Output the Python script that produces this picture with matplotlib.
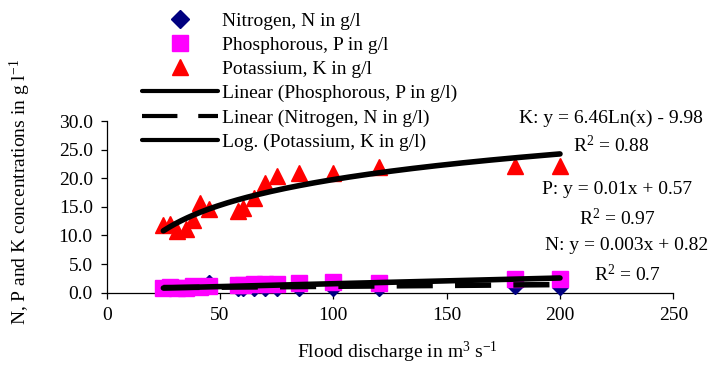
import numpy as np
import matplotlib
matplotlib.use("Agg")
import matplotlib.pyplot as plt
from matplotlib.lines import Line2D

plt.rcParams['font.family'] = ['Liberation Serif', 'DejaVu Serif']
plt.rcParams['mathtext.fontset'] = 'custom'
plt.rcParams['mathtext.rm'] = 'Liberation Serif'
plt.rcParams['mathtext.it'] = 'Liberation Serif:italic'
plt.rcParams['mathtext.bf'] = 'Liberation Serif:bold'

# ---- data ----
discharge = [25, 28, 31, 35, 38, 41, 45, 58, 60, 65, 70, 75, 85, 100, 120, 180, 200]
nitrogen = [0.9, 0.9, 0.8, 0.9, 1.0, 1.0, 1.65, 0.8, 0.9, 0.8, 0.8, 0.8, 0.9, 0.9, 0.9, 1.1, 1.0]
phosphorous = [0.9, 1.0, 0.8, 0.9, 1.1, 1.0, 1.1, 1.3, 1.4, 1.5, 1.5, 1.6, 1.75, 1.8, 1.65, 2.4, 2.4]
potassium = [11.8, 12.0, 10.7, 11.1, 12.7, 15.7, 14.6, 14.3, 14.8, 16.5, 19.1, 20.4, 21.0, 21.0, 22.0, 22.1, 22.1]

# trend-line coefficients as printed on the chart
k_log = (6.46, -9.98)     # y = a*ln(x) + b
p_lin = (0.01, 0.57)      # y = a*x + b
n_lin = (0.003, 0.82)

x_ticks = [0, 50, 100, 150, 200, 250]
y_ticks = [0, 5, 10, 15, 20, 25, 30]

legend_labels = ["Nitrogen, N in g/l", "Phosphorous, P in g/l", "Potassium, K in g/l",
                 "Linear (Phosphorous, P in g/l)", "Linear (Nitrogen, N in g/l)",
                 "Log. (Potassium, K in g/l)"]
eq_texts = ["K: y = 6.46Ln(x) - 9.98", "R$^{2}$ = 0.88",
            "P: y = 0.01x + 0.57", "R$^{2}$ = 0.97",
            "N: y = 0.003x + 0.82", "R$^{2}$ = 0.7"]

W, H = 710, 369
fig = plt.figure(figsize=(W / 100, H / 100), dpi=100)
x0, x1 = 106.7, 673.3
y_top, y_bot = 121.0, 292.7
ax = fig.add_axes([x0 / W, 1 - y_bot / H, (x1 - x0) / W, (y_bot - y_top) / H])

FS = 14
navy = '#000080'
mag = '#FF00FF'
red = '#FF0000'

ax.plot(discharge, nitrogen, linestyle='none', marker='D', ms=8, color=navy, zorder=3, clip_on=False)
ax.plot(discharge, phosphorous, linestyle='none', marker='s', ms=11, color=mag, zorder=4, clip_on=False)
ax.plot(discharge, potassium, linestyle='none', marker='^', ms=11.5, color=red, zorder=5, clip_on=False)

xs = np.linspace(min(discharge), max(discharge), 200)
lw = 4
ax.plot(xs, p_lin[0] * xs + p_lin[1], color='black', lw=lw, solid_capstyle='round', zorder=6)
ax.plot(xs, n_lin[0] * xs + n_lin[1], color='black', lw=lw, dashes=(6.5, 4.0), zorder=6)
ax.plot(xs, k_log[0] * np.log(xs) + k_log[1], color='black', lw=lw, solid_capstyle='round', zorder=6)

ax.set_xlim(0, 250)
ax.set_ylim(0, 30)
ax.set_xticks(x_ticks)
ax.set_yticks(y_ticks)
ax.set_yticklabels([f"{v:.1f}" for v in y_ticks])
ax.set_xticklabels([str(v) for v in x_ticks])
for s in ['top', 'right']:
    ax.spines[s].set_visible(False)
for s in ['left', 'bottom']:
    ax.spines[s].set_linewidth(0.9)
ax.tick_params(axis='both', direction='out', length=4, width=0.9, labelsize=FS, colors='black')
ax.tick_params(axis='y', pad=6)
ax.tick_params(axis='x', pad=6)
ax.set_facecolor('none')

# axis titles
fig.text(20 / W, 1 - 192 / H, "N, P and K concentrations in g l$^{\\mathrm{-1}}$",
         rotation=90, ha='center', va='center', fontsize=FS)
fig.text(397 / W, 1 - 352 / H, "Flood discharge in m$^{3}$ s$^{\\mathrm{-1}}$",
         ha='center', va='center', fontsize=FS)

# equation texts
eq_pos = [(611, 118), (611, 146), (617, 190), (617, 219), (627, 246), (627, 274)]
for t, (px, py) in zip(eq_texts, eq_pos):
    fig.text(px / W, 1 - py / H, t, ha='center', va='center', fontsize=FS, zorder=10)

# legend
handles = [
    Line2D([], [], linestyle='none', marker='D', ms=9.5, color=navy),
    Line2D([], [], linestyle='none', marker='s', ms=11, color=mag),
    Line2D([], [], linestyle='none', marker='^', ms=11.5, color=red),
    Line2D([], [], color='black', lw=3, solid_capstyle='round'),
    Line2D([], [], color='black', lw=3, dashes=(8.5, 5.0)),
    Line2D([], [], color='black', lw=3, solid_capstyle='round'),
]
leg = fig.legend(handles, legend_labels, loc='upper left',
                 bbox_to_anchor=(141.7 / W, 1 - 12 / H), frameon=False,
                 fontsize=FS, handlelength=3.9, handletextpad=0.25,
                 labelspacing=0.34, borderpad=0, borderaxespad=0)

fig.savefig("out.png", dpi=100)
